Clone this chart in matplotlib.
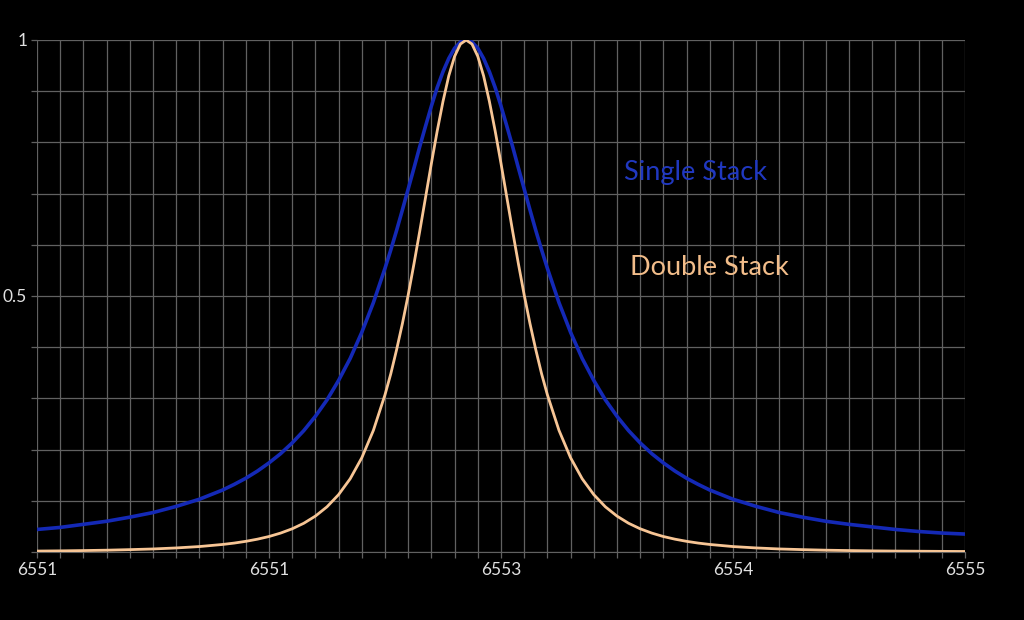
import matplotlib
matplotlib.use("Agg")
import matplotlib.pyplot as plt
from matplotlib.ticker import MultipleLocator

# wavelength (Angstrom) and normalised transmission
wavelength = [
    6551.0, 6551.1, 6551.2, 6551.3, 6551.4, 6551.5, 6551.6, 6551.7, 6551.8, 6551.85,
    6551.9, 6551.95, 6552.0, 6552.05, 6552.1, 6552.15, 6552.2, 6552.25, 6552.3, 6552.35,
    6552.4, 6552.45, 6552.5, 6552.525, 6552.55, 6552.575, 6552.6, 6552.625, 6552.65, 6552.675,
    6552.7, 6552.725, 6552.75, 6552.775, 6552.8, 6552.825, 6552.85,
    6552.875, 6552.9, 6552.925, 6552.95, 6552.975, 6553.0, 6553.025, 6553.05, 6553.075, 6553.1,
    6553.125, 6553.15, 6553.175, 6553.2, 6553.25, 6553.3, 6553.35, 6553.4, 6553.45, 6553.5,
    6553.55, 6553.6, 6553.65, 6553.7, 6553.75, 6553.8, 6553.85, 6553.9, 6554.0, 6554.1,
    6554.2, 6554.3, 6554.4, 6554.5, 6554.6, 6554.7, 6554.8, 6554.9, 6555.0,
]
single_stack = [
    0.044, 0.048, 0.054, 0.060, 0.068, 0.077, 0.089, 0.103, 0.121, 0.132,
    0.144, 0.158, 0.174, 0.192, 0.213, 0.237, 0.265, 0.297, 0.335, 0.378,
    0.429, 0.487, 0.554, 0.590, 0.628, 0.668, 0.709, 0.750, 0.792, 0.832,
    0.871, 0.907, 0.938, 0.964, 0.984, 0.996, 1.000,
    0.996, 0.984, 0.964, 0.938, 0.907, 0.871, 0.832, 0.792, 0.750, 0.709,
    0.668, 0.628, 0.590, 0.554, 0.487, 0.429, 0.378, 0.335, 0.297, 0.265,
    0.237, 0.213, 0.192, 0.174, 0.158, 0.144, 0.132, 0.121, 0.103, 0.089,
    0.077, 0.068, 0.060, 0.054, 0.049, 0.044, 0.040, 0.037, 0.035,
]
double_stack = [
    0.0018, 0.0022, 0.0028, 0.0035, 0.0046, 0.0059, 0.0079, 0.0106, 0.0147, 0.0174,
    0.0208, 0.025, 0.0302, 0.0369, 0.0453, 0.0561, 0.0701, 0.0882, 0.112, 0.143,
    0.184, 0.2375, 0.307, 0.348, 0.395, 0.446, 0.502, 0.563, 0.627, 0.693,
    0.759, 0.822, 0.880, 0.930, 0.968, 0.992, 1.000,
    0.992, 0.968, 0.930, 0.880, 0.822, 0.759, 0.693, 0.627, 0.563, 0.502,
    0.446, 0.395, 0.348, 0.307, 0.2375, 0.184, 0.143, 0.112, 0.0882, 0.0701,
    0.0561, 0.0453, 0.0369, 0.0302, 0.025, 0.0208, 0.0174, 0.0147, 0.0106, 0.0079,
    0.0059, 0.0046, 0.0035, 0.0028, 0.0022, 0.0018, 0.0015, 0.0012, 0.001,
]

x_ticks = [6551, 6552, 6553, 6554, 6555]
x_labels = ["6551", "6551", "6553", "6554", "6555"]
y_ticks = [0.5, 1]
y_labels = ["0.5", "1"]

plt.rcParams["font.family"] = ["Lato", "DejaVu Sans"]

fig = plt.figure(figsize=(10.24, 6.2), dpi=100, facecolor="black")
ax = fig.add_axes([0.0361, 0.1097, 0.9063, 0.8258], facecolor="black")

grid_col = "#616161"
blue = "#1429b6"
orange = "#f7c595"

ax.plot(wavelength, single_stack, color=blue, lw=2.6, zorder=3)
ax.plot(wavelength, double_stack, color=orange, lw=2.0, zorder=4)

ax.set_xlim(6551, 6555)
ax.set_ylim(0, 1)

ax.set_xticks(x_ticks)
ax.set_xticklabels(x_labels)
ax.set_yticks(y_ticks)
ax.set_yticklabels(y_labels)
ax.xaxis.set_minor_locator(MultipleLocator(0.1))
ax.yaxis.set_minor_locator(MultipleLocator(0.1))

ax.grid(which="both", color=grid_col, lw=0.9, zorder=0)
ax.set_axisbelow(True)
for s in ax.spines.values():
    s.set_visible(False)
ax.spines["bottom"].set_visible(True)
ax.spines["bottom"].set_color(grid_col)

ax.tick_params(which="both", colors=grid_col, length=4, width=0.9)
ax.tick_params(axis="x", which="major", labelcolor="#e0e0e0", labelsize=12.5, pad=3)
ax.tick_params(axis="y", which="major", labelcolor="#e0e0e0", labelsize=12.5, pad=3)

ax.text(6553.53, 0.742, "Single Stack", color="#2038c0", fontsize=19.5,
        ha="left", va="center")
ax.text(6553.555, 0.555, "Double Stack", color="#f2bd8a", fontsize=19.5,
        ha="left", va="center")

fig.savefig("out.png", dpi=100, facecolor="black")
